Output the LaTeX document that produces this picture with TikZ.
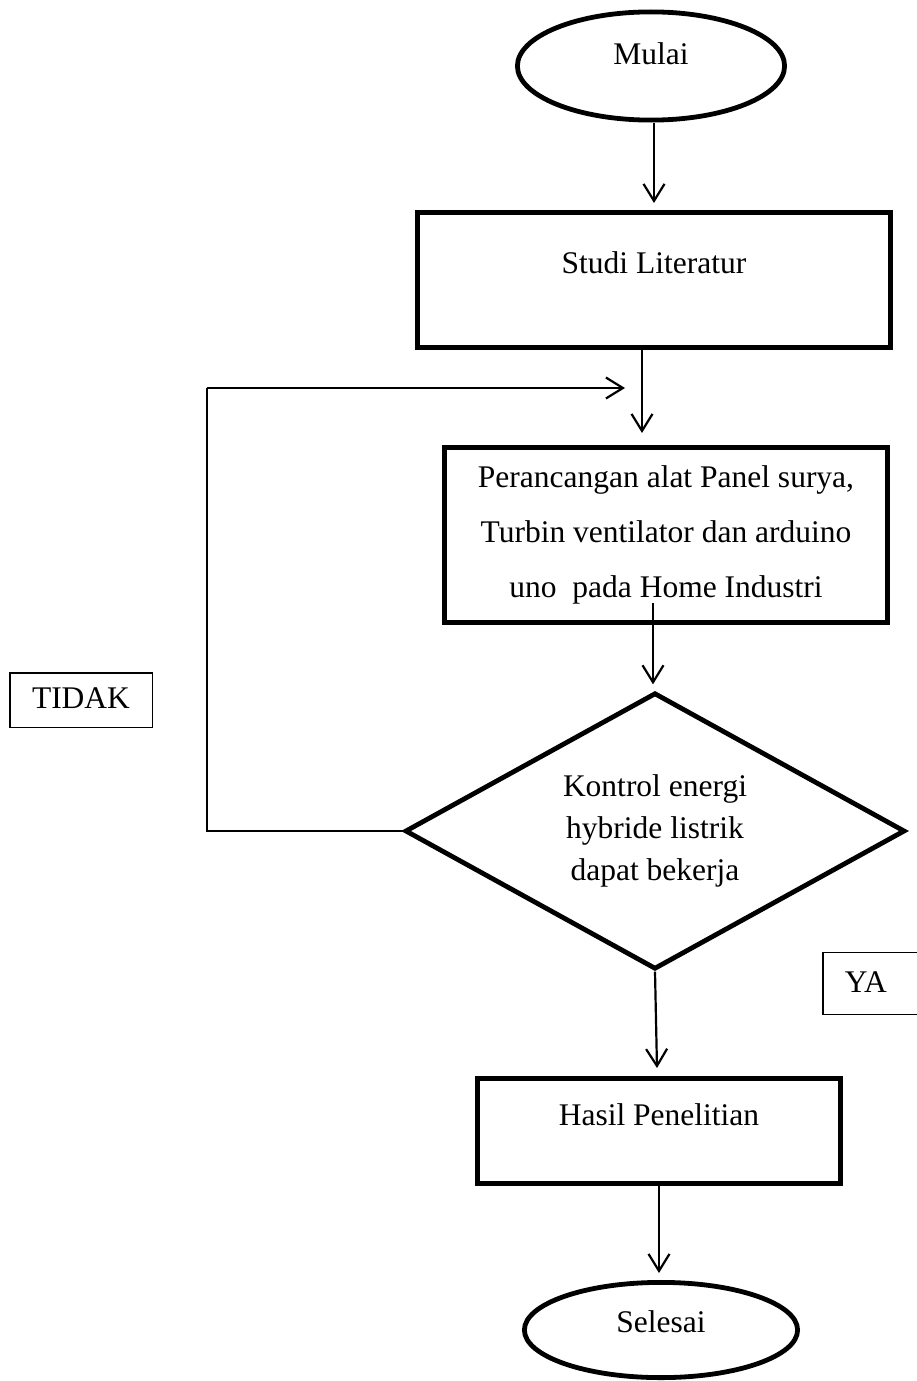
\documentclass[tikz,border=0pt]{standalone}
\usepackage{fontspec}
\setmainfont{Liberation Serif}
\usetikzlibrary{shapes.geometric,arrows.meta}
\begin{document}
\begin{tikzpicture}[x=1pt,y=-1pt,
  txt/.style={font=\fontsize{31.5}{42}\selectfont},
  term/.style={ellipse, draw, line width=4.8pt, inner sep=0pt, txt, text height=21pt},
  procbox/.style={rectangle, draw, line width=4.8pt, inner sep=0pt, txt},
  decbox/.style={diamond, draw, line width=4.8pt, inner sep=0pt, shape aspect=1.8, align=center, txt},
  labelbox/.style={rectangle, draw, line width=1.5pt, txt, text height=21pt},
  arr/.style={line width=2.2pt, -{Straight Barb[length=17pt,width=21pt]}}
]
\useasboundingbox (0,0) rectangle (917,1381);

\node[term, minimum width=267.2pt, minimum height=108.2pt, text depth=23pt] (mulai) at (651,66) {Mulai};
\node[procbox, minimum width=473.2pt, minimum height=135.2pt, text height=21pt, text depth=35pt] (studi) at (654,280) {Studi Literatur};
\node[procbox, minimum width=443.2pt, minimum height=175.2pt, align=center, font=\fontsize{31.5}{55}\selectfont] (ranc) at (666,535)
  {Perancangan alat Panel surya,\\ Turbin ventilator dan arduino\\ uno\ \ pada Home Industri};
\node[decbox, minimum width=500pt, minimum height=276.5pt] (dec) at (655,831)
  {Kontrol energi\\ hybride listrik\\ dapat bekerja};
\node[procbox, minimum width=363.2pt, minimum height=105.2pt, text height=21pt, text depth=33pt] (hasil) at (659,1131) {Hasil Penelitian};
\node[term, minimum width=273.2pt, minimum height=95.2pt, text depth=17pt] (selesai) at (661,1330) {Selesai};

\node[labelbox, minimum width=142.5pt, minimum height=54.5pt, text depth=5pt] (tidak) at (81,700) {TIDAK};
\node[labelbox, anchor=west, minimum height=62pt, inner xsep=22pt, text depth=4pt] (ya) at (822,983.5) {YA\hspace*{30pt}};

\coordinate (c1) at (642,433);
\coordinate (c2) at (653,603);
\coordinate (c3) at (657,1068);
\coordinate (fbx) at (207,388);
\coordinate (fb) at (625,388);

\draw[arr, shorten >=7pt] (mulai.south -| studi.north) -- (studi.north);
\draw[arr] (studi.south -| c1) -- (c1);
\draw[arr, shorten >=6pt] (c2) -- (c2 |- dec.north);
\draw[line width=2.2pt] (dec.west) -| (fbx);
\draw[arr] (fbx) -- (fb);
\draw[arr] (dec.south) -- (c3);
\draw[arr, shorten >=7pt] (hasil.south) -- (hasil.south |- selesai.north);
\end{tikzpicture}
\end{document}
